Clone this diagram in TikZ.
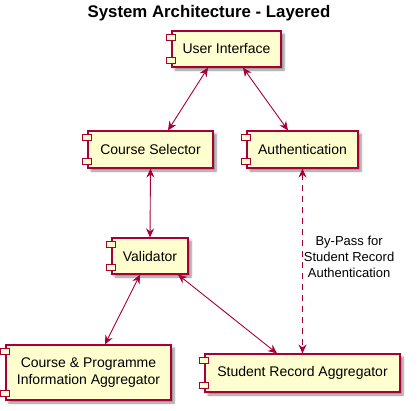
\documentclass[tikz,border=0pt]{standalone}
\usepackage{fontspec}
\setmainfont{Liberation Sans}
\usetikzlibrary{arrows.meta, shadows.blur}
\definecolor{umlRed}{HTML}{A80036}
\definecolor{umlFill}{HTML}{FEFECE}

\begin{document}
\begin{tikzpicture}[
    x=1pt, y=-1pt,
    comp/.style={rectangle, draw=umlRed, fill=umlFill, line width=1.2pt, inner sep=0pt,
                 font=\fontsize{14}{17}\selectfont, align=center,
                 blur shadow={shadow xshift=3pt, shadow yshift=-3pt,
                              shadow blur steps=6, shadow opacity=45}},
    tab/.style={draw=umlRed, fill=umlFill, line width=1.2pt},
    arr/.style={{Stealth[length=9pt,width=8pt,inset=3pt]}-{Stealth[length=9pt,width=8pt,inset=3pt]},
                umlRed, line width=0.9pt},
  ]
    \useasboundingbox (0,0) rectangle (418,410);

    \node[font=\fontsize{16.8}{19}\selectfont\bfseries] (title) at (209,13.5) {System Architecture - Layered};

    \node[comp, minimum width=109pt, minimum height=36pt] (ui) at (226.5,49) {User Interface};
    \node[comp, minimum width=125pt, minimum height=37pt] (cs) at (150.5,149.5) {Course Selector};
    \node[comp, minimum width=111pt, minimum height=37pt] (auth) at (302.5,149.5) {Authentication};
    \node[comp, minimum width=76pt, minimum height=36pt] (val) at (150,256) {Validator};
    \node[comp, minimum width=165pt, minimum height=55pt] (cp) at (88.5,372.5) {Course \& Programme\\Information Aggregator};
    \node[comp, minimum width=195pt, minimum height=38pt] (sra) at (302.5,373) {Student Record Aggregator};

    \foreach \n in {ui,cs,auth,val,cp,sra} {
      \draw[tab] ([xshift=-5pt,yshift=-4pt]\n.north west) rectangle ++(9,6);
      \draw[tab] ([xshift=-5pt,yshift=4pt]\n.south west) rectangle ++(9,-6);
    }

    \draw[arr] ([xshift=-18.5pt]ui.south) -- ([xshift=17.5pt]cs.north);
    \draw[arr] ([xshift=16.5pt]ui.south) -- ([xshift=-14.5pt]auth.north);
    \draw[arr] (cs.south) -- (val.north);
    \draw[arr, dash pattern=on 6pt off 5pt] (auth.south) -- (sra.north)
      node[pos=0.48, right, inner sep=1pt, align=center, text=black,
           font=\fontsize{13}{16}\selectfont] (bypass) {By-Pass for\\Student Record\\Authentication};
    \draw[arr] ([xshift=-10pt]val.south) -- ([xshift=16.5pt]cp.north);
    \draw[arr] ([xshift=28pt]val.south) -- ([xshift=-25.5pt]sra.north);
\end{tikzpicture}
\end{document}
